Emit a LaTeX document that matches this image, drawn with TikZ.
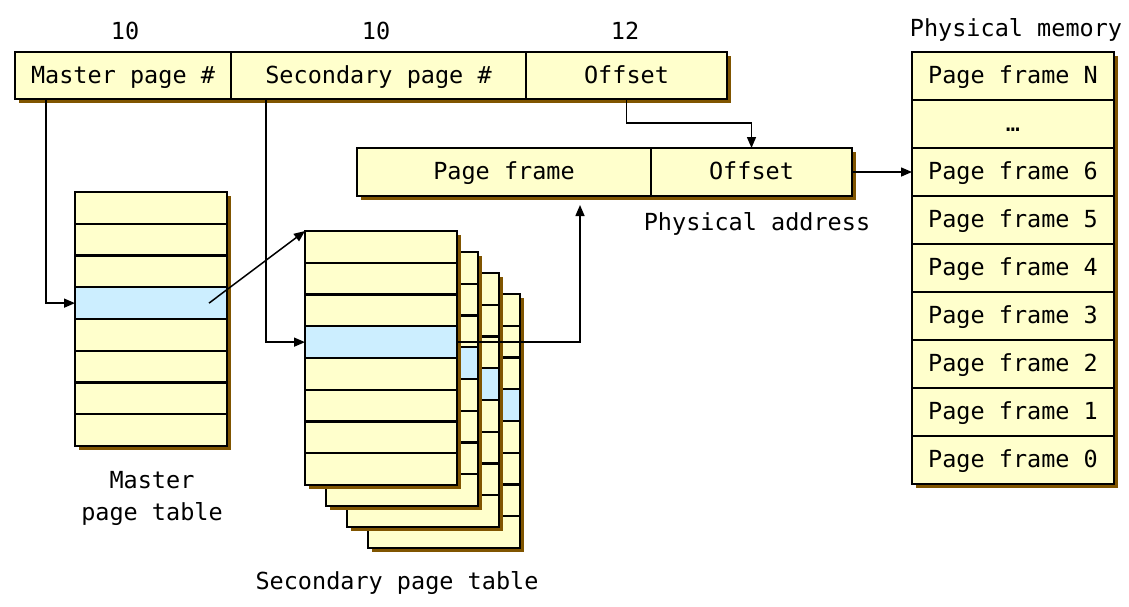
\documentclass[tikz,border=0pt]{standalone}
\usepackage{fontspec}
\setmainfont{DejaVu Sans Mono}
\usetikzlibrary{arrows.meta}
\definecolor{cellc}{HTML}{FFFFCC}
\definecolor{hic}{HTML}{CCEEFF}
\definecolor{shc}{HTML}{805500}
\newcommand\ptable[3]{%
  \fill[shc] (#2+4,#3+4) rectangle (#2+156,#3+258);
  \foreach \i/\c in {1/cellc,2/cellc,3/cellc,4/hic,5/cellc,6/cellc,7/cellc,8/cellc} {
    \node[row, fill=\c] (#1r\i) at (#2, {#3+(\i-1)*31.75}) {};
  }
}
\begin{document}
\begin{tikzpicture}[x=1pt,y=-1pt,
  txt/.style={font=\fontsize{23.5}{32}\selectfont, inner sep=0pt},
  cell/.style={draw=black, line width=2.4pt, fill=cellc, anchor=north west, outer sep=0pt, inner sep=0pt, text height=20pt, text depth=5pt, font=\fontsize{23.5}{28}\selectfont},
  row/.style={cell, minimum width=152pt, minimum height=31.75pt, text height=0pt, text depth=0pt},
  mem/.style={cell, minimum width=202pt, minimum height=48pt},
  conn/.style={draw=black, line width=1.5pt, -{Triangle[length=11pt,width=9pt]}},
]
\useasboundingbox (0,0) rectangle (1129,606);

% virtual address
\fill[shc] (19,56) rectangle (731,103);
\node[cell, minimum width=216pt, minimum height=47pt] (mp) at (15,52) {Master page \#};
\node[cell, minimum width=295pt, minimum height=47pt] (sp) at (231,52) {Secondary page \#};
\node[cell, minimum width=201pt, minimum height=47pt] (off) at (526,52) {Offset};
\node[txt] (l1) at (125,31) {10};
\node[txt] (l2) at (376,31) {10};
\node[txt] (l3) at (625,31) {12};

% physical address
\fill[shc] (361,152) rectangle (856,200);
\node[cell, minimum width=294pt, minimum height=48pt] (pf) at (357,148) {Page frame};
\node[cell, minimum width=201pt, minimum height=48pt] (po) at (651,148) {Offset};
\node[txt] (pal) at (757,224) {Physical address};

% physical memory
\fill[shc] (916,56) rectangle (1118,488);
\node[mem] (pmN) at (912,52) {Page frame N};
\node[mem] (pmx) at (912,100) {…};
\node[mem] (pm6) at (912,148) {Page frame 6};
\node[mem] (pm5) at (912,196) {Page frame 5};
\node[mem] (pm4) at (912,244) {Page frame 4};
\node[mem] (pm3) at (912,292) {Page frame 3};
\node[mem] (pm2) at (912,340) {Page frame 2};
\node[mem] (pm1) at (912,388) {Page frame 1};
\node[mem] (pm0) at (912,436) {Page frame 0};
\node[txt] (pml) at (1016,30) {Physical memory};

% master page table
\ptable{m}{75}{192}
\node[txt, align=center] (mpl) at (152,498) {Master\\page table};

% secondary page tables
\ptable{d}{368}{294}
\ptable{c}{347}{273}
\ptable{b}{326}{252}
\ptable{s}{305}{231}
\node[txt] (spl) at (397,583) {Secondary page table};

% connectors
\coordinate (up) at (580,205);
\draw[conn] ([xshift=31pt]mp.south west) |- (mr4.west);
\draw[conn] ([xshift=-18pt]mr4.east) -- (sr1.north west);
\draw[conn] ([xshift=35pt]sp.south west) |- (sr4.west);
\draw[conn] (sr4.east) -| (up);
\draw[conn] (off.south) -- ++(0,24) -| (po.north);
\draw[conn] (po.east) -- (pm6.west);
\end{tikzpicture}
\end{document}
